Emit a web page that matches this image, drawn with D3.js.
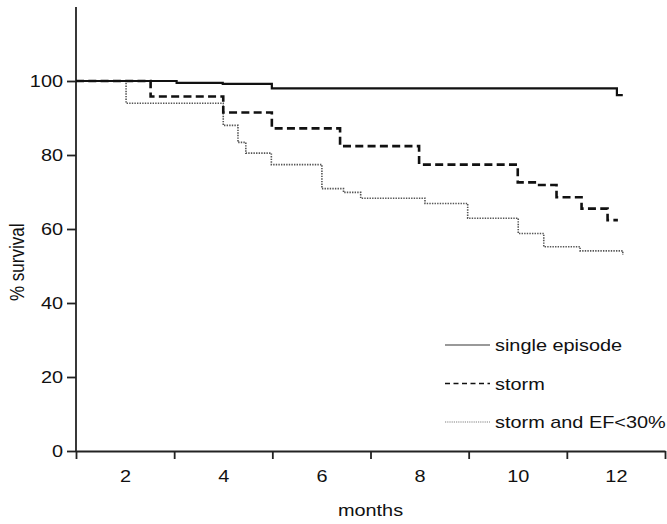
<!DOCTYPE html>
<html>
<head>
<meta charset="UTF-8"/>
<title>Survival</title>
<script src="https://d3js.org/d3.v7.min.js"></script>
<style>
body { margin: 0; background: #fff; }
svg { display: block; }
text { font-family: 'Liberation Sans', Arial, Helvetica, sans-serif; font-size: 17px; fill: #111; }
.axis path, .axis line { stroke: #222; stroke-width: 1.8; }
</style>
</head>
<body>
<svg width="667" height="524"></svg>
<script>
// months / % survival
const singleMonths = [1, 3.05, 3.99, 4.99, 12.02, 12.14];
const singleValues = [100, 99.5, 99.2, 98.0, 96.2, 96.2];

const stormMonths = [1, 2.52, 4.0, 4.99, 6.38, 7.99, 10.0, 10.4, 10.79, 11.3, 11.83, 12.04];
const stormValues = [100, 95.8, 91.5, 87.2, 82.4, 77.4, 72.6, 71.9, 68.6, 65.5, 62.4, 62.4];

const efMonths = [1, 2.02, 4.0, 4.3, 4.46, 4.98, 6.01, 6.45, 6.8, 8.11, 8.98, 10.01, 10.53, 11.27, 12.14, 12.14];
const efValues = [100, 94.0, 88.0, 83.4, 80.5, 77.4, 70.9, 69.9, 68.3, 66.9, 62.9, 58.8, 55.2, 54.1, 54.1, 53.0];

const monthTicks = [1, 3, 5, 7, 9, 11, 13];
const monthLabels = [2, 4, 6, 8, 10, 12];
const survivalTicks = [0, 20, 40, 60, 80, 100];

const legendNames = ['single episode', 'storm', 'storm and EF<30%'];

const sx = 1.17; // glyphs in the picture are wider than tall

const svg = d3.select('svg');

const x = d3.scaleLinear().domain([1, 13]).range([76, 665]);
const y = d3.scaleLinear().domain([0, 120]).range([451, 7]);

// y axis
const yAxis = svg.append('g')
  .attr('class', 'axis')
  .attr('transform', `translate(${x(1)},0)`)
  .call(d3.axisLeft(y).tickValues(survivalTicks).tickSize(9).tickPadding(4).tickSizeOuter(0));
yAxis.select('.domain').attr('d', `M0,${y(120)}V${y(0)}`);
yAxis.selectAll('text')
  .attr('x', -13 / sx)
  .attr('transform', `scale(${sx},1)`);

// x axis: tick marks at odd months, labels at even months
svg.append('g')
  .attr('class', 'axis')
  .attr('transform', `translate(0,${y(0)})`)
  .call(d3.axisBottom(x).tickValues(monthTicks).tickSize(8).tickFormat('').tickSizeOuter(0));

const xLabels = svg.append('g')
  .attr('transform', `translate(0,${y(0)})`)
  .call(d3.axisBottom(x).tickValues(monthLabels).tickSize(0).tickPadding(19));
xLabels.select('.domain').remove();
xLabels.selectAll('text')
  .attr('transform', `scale(${sx},1)`);

// axis titles
svg.append('text')
  .attr('transform', `translate(${x(7)},516) scale(${sx},1)`)
  .attr('text-anchor', 'middle')
  .text('months');

svg.append('text')
  .attr('transform', `translate(24,${y(51)}) rotate(-90) scale(1,${sx})`)
  .attr('text-anchor', 'middle')
  .text('% survival');

// curves
const line = d3.line()
  .x(d => x(d[0]))
  .y(d => y(d[1]))
  .curve(d3.curveStepAfter);

svg.append('path')
  .datum(d3.zip(efMonths, efValues))
  .attr('d', line)
  .attr('fill', 'none')
  .attr('stroke', '#555')
  .attr('stroke-width', 1.6)
  .attr('stroke-dasharray', '1.4 1.2');

svg.append('path')
  .datum(d3.zip(stormMonths, stormValues))
  .attr('d', line)
  .attr('fill', 'none')
  .attr('stroke', '#111')
  .attr('stroke-width', 2.6)
  .attr('stroke-dasharray', '8 4.3');

svg.append('path')
  .datum(d3.zip(singleMonths, singleValues))
  .attr('d', line)
  .attr('fill', 'none')
  .attr('stroke', '#111')
  .attr('stroke-width', 2.2);

// legend
const legendStyles = [
  { stroke: '#999', width: 2, dash: null },
  { stroke: '#111', width: 1.6, dash: '5 3.5' },
  { stroke: '#aaa', width: 1.4, dash: '1.2 1' }
];
const rows = svg.append('g').selectAll('g')
  .data(legendNames)
  .enter()
  .append('g')
  .attr('transform', (d, i) => `translate(445,${345 + i * 38.5})`);

rows.append('line')
  .attr('x1', 0)
  .attr('x2', 45)
  .attr('stroke', (d, i) => legendStyles[i].stroke)
  .attr('stroke-width', (d, i) => legendStyles[i].width)
  .attr('stroke-dasharray', (d, i) => legendStyles[i].dash);

rows.append('text')
  .attr('transform', `translate(50,6) scale(${sx},1)`)
  .text(d => d);
</script>
</body>
</html>
